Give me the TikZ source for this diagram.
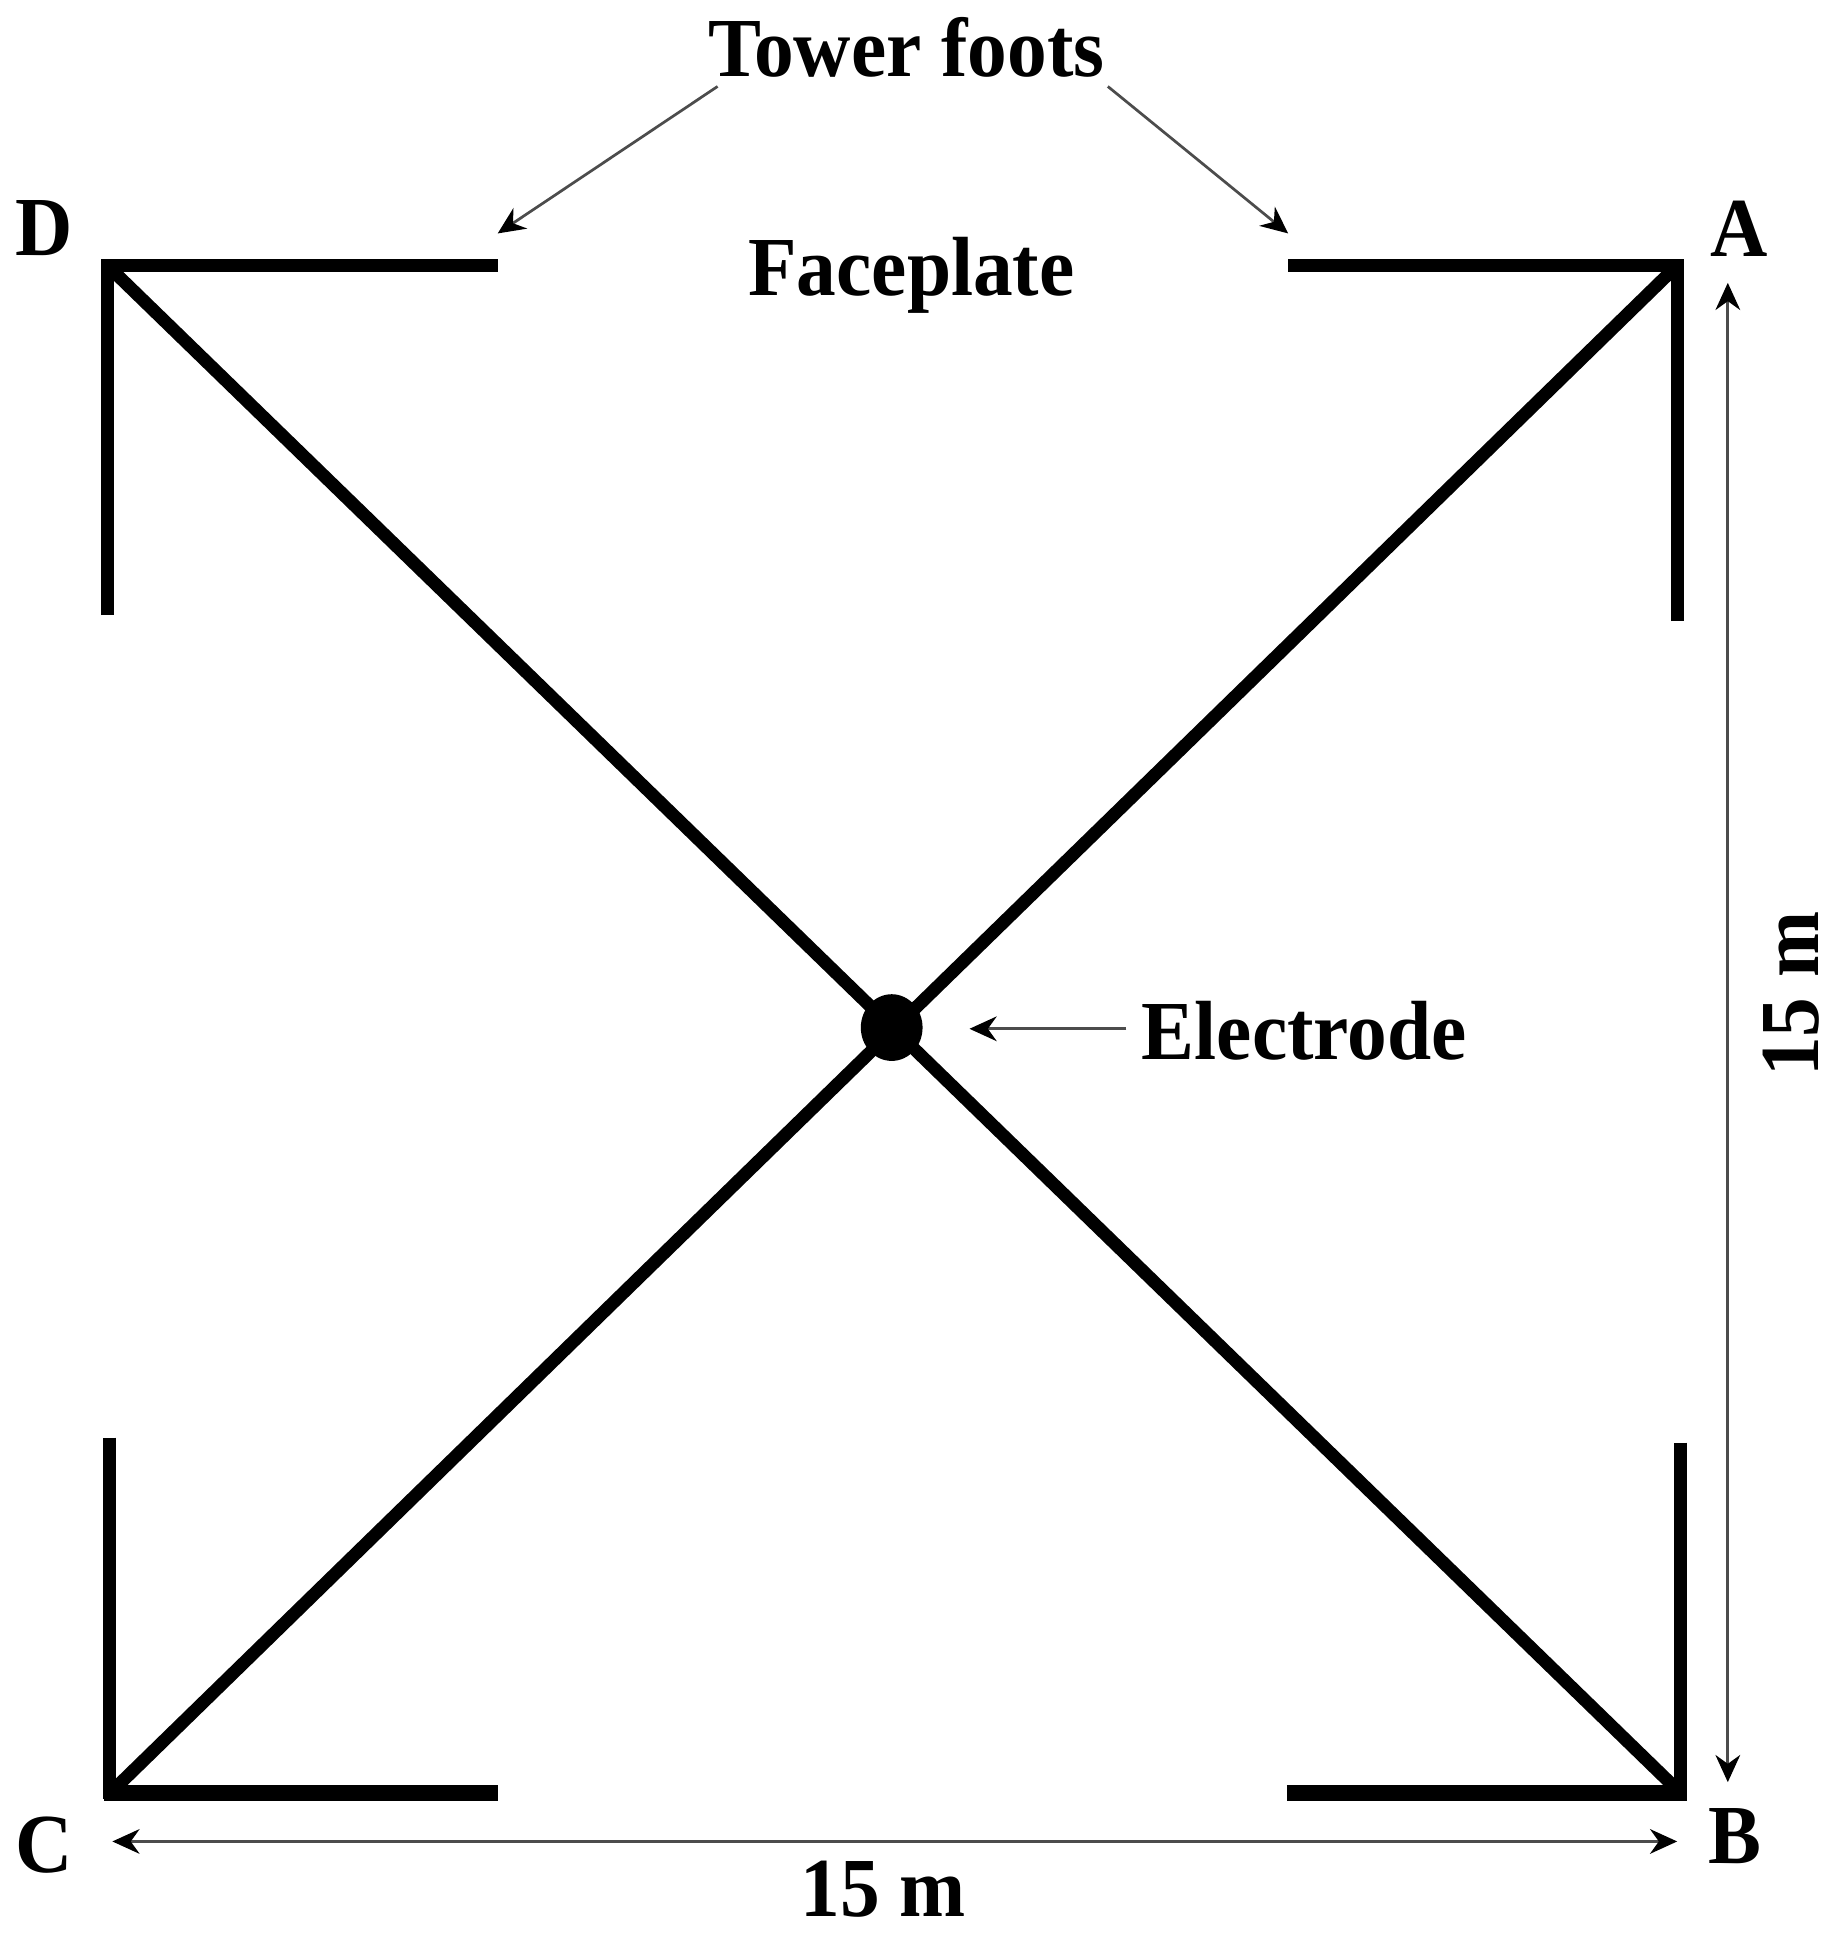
\documentclass[tikz,border=0pt]{standalone}
\usepackage{fontspec}
\usetikzlibrary{arrows.meta,shapes.geometric}
\newfontfamily\lab{Liberation Serif Bold}[FakeStretch=0.945]
\tikzset{
  lbl/.style={font=\lab\fontsize{34}{36}\selectfont, text=black, inner sep=0pt, outer sep=0pt},
  beam/.style={line width=5.2pt, black},
  topbar/.style={line width=5.6pt, black},
  botbar/.style={line width=6.4pt, black},
  leader/.style={line width=1.1pt, black!70, -{Stealth[length=11pt,width=10pt,black]}},
  dim/.style={line width=1.1pt, black!70, {Stealth[length=11pt,width=10pt,black]}-{Stealth[length=11pt,width=10pt,black]}}
}
\begin{document}
\begin{tikzpicture}[x=0.5pt,y=-0.5pt]
\useasboundingbox (0,0) rectangle (1490,1570);
% corners and ends
\coordinate (D) at (87,215);
\coordinate (A) at (1358,215);
\coordinate (C) at (89,1452);
\coordinate (B) at (1361,1452);
\coordinate (Dh) at (403,215);
\coordinate (Dv) at (87,498);
\coordinate (Ah) at (1043,215);
\coordinate (Av) at (1358,503);
\coordinate (Ch) at (403,1452);
\coordinate (Cv) at (89,1164);
\coordinate (Bh) at (1042,1452);
\coordinate (Bv) at (1361,1168);
% beams
\draw[topbar] (Dh) -- (82,215);
\draw[beam] (Dv) -- (87,210);
\draw[topbar] (Ah) -- (1363,215);
\draw[beam] (Av) -- (1358,210);
\draw[beam] (Cv) -- (89,1457);
\draw[botbar] (Ch) -- (84,1452);
\draw[beam] (Bv) -- (1361,1457);
\draw[botbar] (Bh) -- (1366,1452);
\draw[beam] (D) -- (B);
\draw[beam] (A) -- (C);
\node[ellipse,fill=black,minimum width=25pt,minimum height=27pt,inner sep=0pt] (el) at (722,832) {};
% labels
\node[lbl] (tf) at (734,38) {Tower foots};
\node[lbl] (fp) at (738,223) {Faceplate};
\node[lbl] (et) at (1056,835) {Electrode};
\node[lbl] (ld) at (36,185) {D};
\node[lbl] (la) at (1408,185) {A};
\node[lbl] (lc) at (36,1494) {C};
\node[lbl] (lb) at (1405,1487) {B};
\node[lbl] (w) at (715,1530) {15 m};
\node[lbl,rotate=90] (h) at (1450,805) {15 m};
% leaders
\coordinate (t1s) at (581,70);
\coordinate (t1e) at (403,189);
\coordinate (t2s) at (897,70);
\coordinate (t2e) at (1043,189);
\coordinate (e1s) at (912,833);
\coordinate (e1e) at (785,833);
\draw[leader] (t1s) -- (t1e);
\draw[leader] (t2s) -- (t2e);
\draw[leader] (e1s) -- (e1e);
% dimensions
\coordinate (v1) at (1399,229);
\coordinate (v2) at (1399,1443);
\coordinate (h1) at (91,1491);
\coordinate (h2) at (1358,1491);
\draw[dim] (v1) -- (v2);
\draw[dim] (h1) -- (h2);
\end{tikzpicture}
\end{document}
